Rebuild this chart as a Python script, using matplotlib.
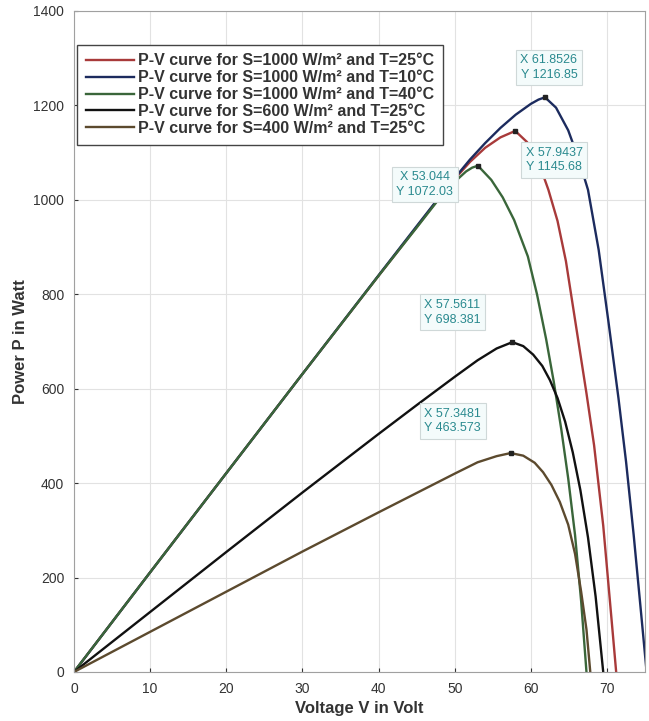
import matplotlib
matplotlib.use("Agg")
import matplotlib.pyplot as plt

#-------------------------------------------------------------
# data (V in volt, P in watt)
v_s1000_t10 = [0, 10, 20, 30, 40, 45, 48, 50, 52, 54, 56, 58, 60, 61, 61.8526, 63.3, 64.9, 66.3, 67.5, 68.9, 70.2, 71.5, 72.5, 73.5, 74.5, 75.2]
p_s1000_t10 = [0, 211, 421, 631, 840, 944, 1006, 1046, 1085, 1120, 1152, 1180, 1203, 1212, 1216.85, 1195, 1147, 1085, 1021, 894, 740, 580, 445, 290, 120, 0]

v_s1000_t25 = [0, 10, 20, 30, 40, 45, 48, 50, 52, 54, 56, 57.9437, 59.5, 61, 62.3, 63.5, 64.6, 66, 67.3, 68.3, 69.5, 70.6, 71.2]
p_s1000_t25 = [0, 211, 421, 631, 839, 942, 1005, 1044, 1080, 1110, 1132, 1145.68, 1122, 1080, 1021, 955, 870, 725, 590, 480, 310, 110, 0]

v_s1000_t40 = [0, 10, 20, 30, 40, 45, 48, 50, 51.5, 52.3, 53.044, 54.8, 56.3, 57.8, 59.6, 60.8, 62, 63, 64, 64.9, 65.8, 66.6, 67.3]
p_s1000_t40 = [0, 211, 421, 631, 839, 941, 1003, 1038, 1060, 1068, 1072.03, 1042, 1005, 957, 880, 800, 705, 615, 513, 410, 290, 150, 0]

v_s600 = [0, 10, 20, 30, 40, 45, 50, 53, 55.5, 57.5611, 59, 60.3, 61.5, 62.5, 63.5, 64.5, 65.5, 66.5, 67.5, 68.5, 69.5]
p_s600 = [0, 127, 254, 380, 504, 565, 625, 660, 685, 698.381, 690, 672, 648, 618, 580, 530, 465, 385, 285, 160, 0]

v_s400 = [0, 10, 20, 30, 40, 45, 50, 53, 55.5, 57.3481, 59, 60.5, 61.6, 62.7, 63.8, 64.9, 65.8, 66.6, 67.3, 67.8]
p_s400 = [0, 85, 170, 255, 338, 379, 420, 444, 457, 463.573, 458, 443, 423, 396, 360, 312, 250, 170, 90, 0]

labels = ["P-V curve for S=1000 W/m\u00b2 and T=25\u00b0C",
          "P-V curve for S=1000 W/m\u00b2 and T=10\u00b0C",
          "P-V curve for S=1000 W/m\u00b2 and T=40\u00b0C",
          "P-V curve for S=600 W/m\u00b2 and T=25\u00b0C",
          "P-V curve for S=400 W/m\u00b2 and T=25\u00b0C"]

# data tips at the maximum power points
tip_x = [61.8526, 57.9437, 53.044, 57.5611, 57.3481]
tip_y = [1216.85, 1145.68, 1072.03, 698.381, 463.573]
tip_text_x = ["61.8526", "57.9437", "53.044", "57.5611", "57.3481"]
tip_text_y = ["1216.85", "1145.68", "1072.03", "698.381", "463.573"]

xticks = [0, 10, 20, 30, 40, 50, 60, 70]
yticks = [0, 200, 400, 600, 800, 1000, 1200, 1400]

#-------------------------------------------------------------
plt.rcParams['font.family'] = ['Liberation Sans', 'DejaVu Sans']

fig = plt.figure(figsize=(6.49, 7.21), dpi=100)
ax = fig.add_axes([0.114, 0.068, 0.880, 0.917])

curves = [(v_s1000_t25, p_s1000_t25, "#a83a3a"),
          (v_s1000_t10, p_s1000_t10, "#1c2b5e"),
          (v_s1000_t40, p_s1000_t40, "#3a663a"),
          (v_s600, p_s600, "#111111"),
          (v_s400, p_s400, "#5c4a2e")]
for (v, p, c), lab in zip(curves, labels):
    ax.plot(v, p, color=c, lw=1.7, label=lab)

# data tip boxes, offsets in pixels from the marker
offsets = [(4, 30), (39, -29), (-53, -19), (-60, 30), (-58, 32)]
for x, y, tx, ty, (dx, dy) in zip(tip_x, tip_y, tip_text_x, tip_text_y, offsets):
    ax.plot(x, y, "s", color="#222222", ms=3, zorder=5)
    ax.annotate("X " + tx + "\nY " + ty, xy=(x, y), xytext=(dx, dy),
                textcoords="offset pixels", ha="center", va="center",
                fontsize=9, color="#2a8a8f", linespacing=1.3,
                bbox=dict(boxstyle="square,pad=0.35", fc="#f4fbfb",
                          ec="#cfd8d8", lw=0.8), zorder=6)

ax.set_xlim(0, 75)
ax.set_ylim(0, 1400)
ax.set_xticks(xticks)
ax.set_yticks(yticks)
ax.tick_params(direction="in", labelsize=10, colors="#333333", length=3, pad=7)
ax.grid(True, color="#e2e2e2", lw=0.8)
for s in ax.spines.values():
    s.set_color("#a0a0a0")

ax.set_xlabel("Voltage V in Volt", fontsize=12, fontweight="bold", color="#333333", labelpad=4)
ax.set_ylabel("Power P in Watt", fontsize=12, fontweight="bold", color="#333333")

leg = ax.legend(loc="upper left", bbox_to_anchor=(0.005, 0.949), borderaxespad=0,
                fontsize=11.5, fancybox=False, edgecolor="#444444",
                handlelength=3.0, handletextpad=0.3, borderpad=0.55,
                labelspacing=0.12, framealpha=1)
for t in leg.get_texts():
    t.set_fontweight("bold")
    t.set_color("#333333")

fig.savefig("out.png", dpi=100)
